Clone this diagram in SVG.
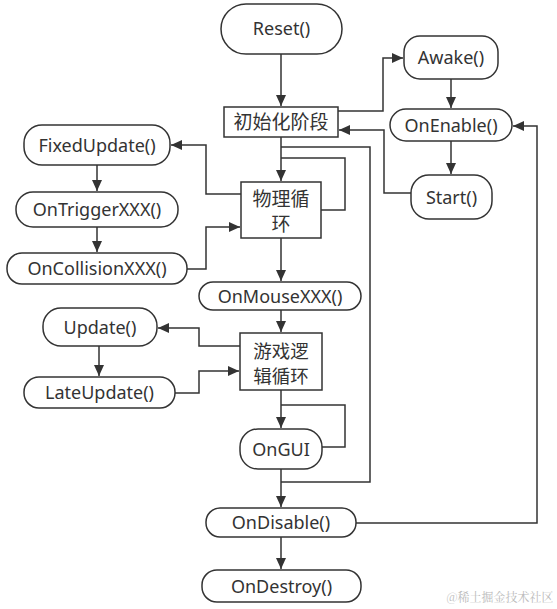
<svg xmlns="http://www.w3.org/2000/svg" width="557" height="609" viewBox="0 0 557 609">
<defs>
<marker id="arr" markerUnits="userSpaceOnUse" markerWidth="12" markerHeight="10" refX="11" refY="5" orient="auto">
<path d="M0,0 L11,5 L0,10 Z" fill="#333"/>
</marker>
<style>
.n{fill:#fff;stroke:#333;stroke-width:1.5}
.t{font-family:"Noto Sans","Noto Sans CJK SC",sans-serif;font-size:18px;fill:#333;text-anchor:middle}
.c{font-family:"Noto Sans CJK SC",sans-serif;font-size:19px;fill:#333;text-anchor:middle}
.c2{font-family:"Noto Sans CJK SC",sans-serif;font-size:18.5px;fill:#333;text-anchor:middle}
.e{fill:none;stroke:#333;stroke-width:1.5}
.a{marker-end:url(#arr)}
</style>
</defs>
<rect width="557" height="609" fill="#fff"/>
<g id="connectors">
<path class="e a" d="M281 54 V106"/>
<path class="e a" d="M338 111 H383 V58 H403"/>
<path class="e a" d="M451 79 V108"/>
<path class="e a" d="M451 141 V174"/>
<path class="e a" d="M411 193 H384 V130 H339"/>
<path class="e a" d="M281 137 V181"/>
<path class="e" d="M321 210 H345 V158 H281"/>
<path class="e" d="M281 147 H370 V482 H281"/>
<path class="e a" d="M241 194 H206 V145 H171"/>
<path class="e a" d="M97 165 V191"/>
<path class="e a" d="M97 227 V252"/>
<path class="e a" d="M187 269 H206 V227 H240"/>
<path class="e a" d="M281 238 V281"/>
<path class="e a" d="M281 310 V332"/>
<path class="e a" d="M240 346 H199 V328 H158"/>
<path class="e a" d="M99 346 V376"/>
<path class="e a" d="M175 393 H199 V371 H239"/>
<path class="e a" d="M281 390 V428"/>
<path class="e" d="M322 447 H345 V405 H281"/>
<path class="e a" d="M281 469 V507"/>
<path class="e a" d="M356 523 H537 V126 H513"/>
<path class="e a" d="M281 537 V569"/>
</g>
<g id="reset"><rect class="n" x="221" y="4" width="121" height="50" rx="25"/><text class="t" x="281.5" y="35">Reset()</text></g>
<g id="init"><rect class="n" x="224" y="107" width="114" height="30"/><text class="c" x="281" y="129">初始化阶段</text></g>
<g id="awake"><rect class="n" x="404" y="36" width="94" height="43" rx="16"/><text class="t" x="451" y="63.5">Awake()</text></g>
<g id="onenable"><rect class="n" x="390" y="109" width="122" height="32" rx="16"/><text class="t" x="451" y="131.5">OnEnable()</text></g>
<g id="start"><rect class="n" x="411" y="175" width="81" height="44" rx="18"/><text class="t" x="451.5" y="203.5">Start()</text></g>
<g id="fixedupdate"><rect class="n" x="24" y="125" width="146" height="40" rx="18"/><text class="t" x="97" y="151.5">FixedUpdate()</text></g>
<g id="ontrigger"><rect class="n" x="16" y="192" width="162" height="35" rx="17"/><text class="t" x="97" y="216">OnTriggerXXX()</text></g>
<g id="oncollision"><rect class="n" x="7" y="253" width="180" height="31" rx="15"/><text class="t" x="97" y="275">OnCollisionXXX()</text></g>
<g id="physics"><rect class="n" x="241" y="182" width="80" height="56"/><text class="c" x="281" y="206">物理循</text><text class="c" x="281" y="231">环</text></g>
<g id="onmouse"><rect class="n" x="199" y="282" width="162" height="28" rx="14"/><text class="t" x="280" y="302.5">OnMouseXXX()</text></g>
<g id="update"><rect class="n" x="43" y="308" width="114" height="38" rx="18"/><text class="t" x="100" y="333.5">Update()</text></g>
<g id="lateupdate"><rect class="n" x="24" y="377" width="151" height="31" rx="15"/><text class="t" x="99.5" y="399">LateUpdate()</text></g>
<g id="gamelogic"><rect class="n" x="240" y="333" width="82" height="57"/><text class="c2" x="281" y="358">游戏逻</text><text class="c2" x="281" y="383">辑循环</text></g>
<g id="ongui"><rect class="n" x="240" y="429" width="82" height="40" rx="18"/><text class="t" x="281" y="455.5">OnGUI</text></g>
<g id="ondisable"><rect class="n" x="206" y="508" width="150" height="29" rx="14"/><text class="t" x="281" y="529">OnDisable()</text></g>
<g id="ondestroy"><rect class="n" x="202" y="570" width="159" height="32" rx="15"/><text class="t" x="281.5" y="592.5">OnDestroy()</text></g>
<text x="500" y="602" font-family="Noto Serif CJK SC,Noto Sans CJK SC,serif" font-size="12" fill="#bbb" text-anchor="middle">@稀土掘金技术社区</text>
</svg>
